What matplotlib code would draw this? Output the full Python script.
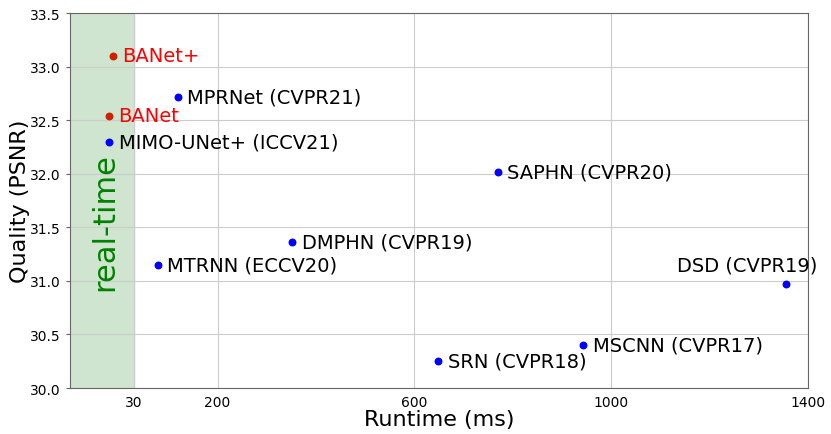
import matplotlib
matplotlib.use("Agg")
import matplotlib.pyplot as plt

# ---------- DATA ----------
names = ["BANet+", "BANet", "MIMO-UNet+ (ICCV21)", "MPRNet (CVPR21)", "MTRNN (ECCV20)",
         "DMPHN (CVPR19)", "SAPHN (CVPR20)", "SRN (CVPR18)", "MSCNN (CVPR17)", "DSD (CVPR19)"]
runtime = [-13, -21, -21, 119, 78, 352, 769, 649, 943, 1355]
psnr = [33.10, 32.54, 32.30, 32.72, 31.15, 31.36, 32.02, 30.25, 30.40, 30.97]
ours = [True, True, False, False, False, False, False, False, False, False]

xticks = [30, 200, 600, 1000, 1400]
yticks = [30.0, 30.5, 31.0, 31.5, 32.0, 32.5, 33.0, 33.5]

fig = plt.figure(figsize=(8.31, 4.35), dpi=100)
ax = fig.add_axes([0.0842, 0.1057, 0.8881, 0.8621])

ax.axvspan(-100, 30, color="#cfe5cf", zorder=0)
ax.text(-30, 31.56, "real-time", rotation=90, color="green", fontsize=22,
        ha="center", va="center")

for n, x, y, o in zip(names, runtime, psnr, ours):
    c = "#cc2200" if o else "blue"
    ax.scatter([x], [y], s=22, color=c, zorder=3)
    tc = "red" if o else "black"
    if n.startswith("DSD"):
        ax.annotate(n, (x, y), xytext=(-28, 7), textcoords="offset points",
                    ha="center", va="bottom", fontsize=14, color=tc,
                    annotation_clip=False)
    else:
        ax.annotate(n, (x, y), xytext=(7, 0), textcoords="offset points",
                    ha="left", va="center", fontsize=14, color=tc)

ax.set_xlim(-100, 1400)
ax.set_ylim(30.0, 33.5)
ax.set_xticks(xticks)
ax.set_yticks(yticks)
ax.tick_params(axis="x", length=0, labelsize=10, pad=5)
ax.tick_params(axis="y", length=3, labelsize=10, color="#666666")
ax.grid(True, color="#cccccc", linewidth=0.8)
ax.set_axisbelow(True)
for s in ax.spines.values():
    s.set_color("#666666")

ax.set_xlabel("Runtime (ms)", fontsize=16, labelpad=0)
ax.set_ylabel("Quality (PSNR)", fontsize=16, labelpad=0)

fig.savefig("out.png", dpi=100)
